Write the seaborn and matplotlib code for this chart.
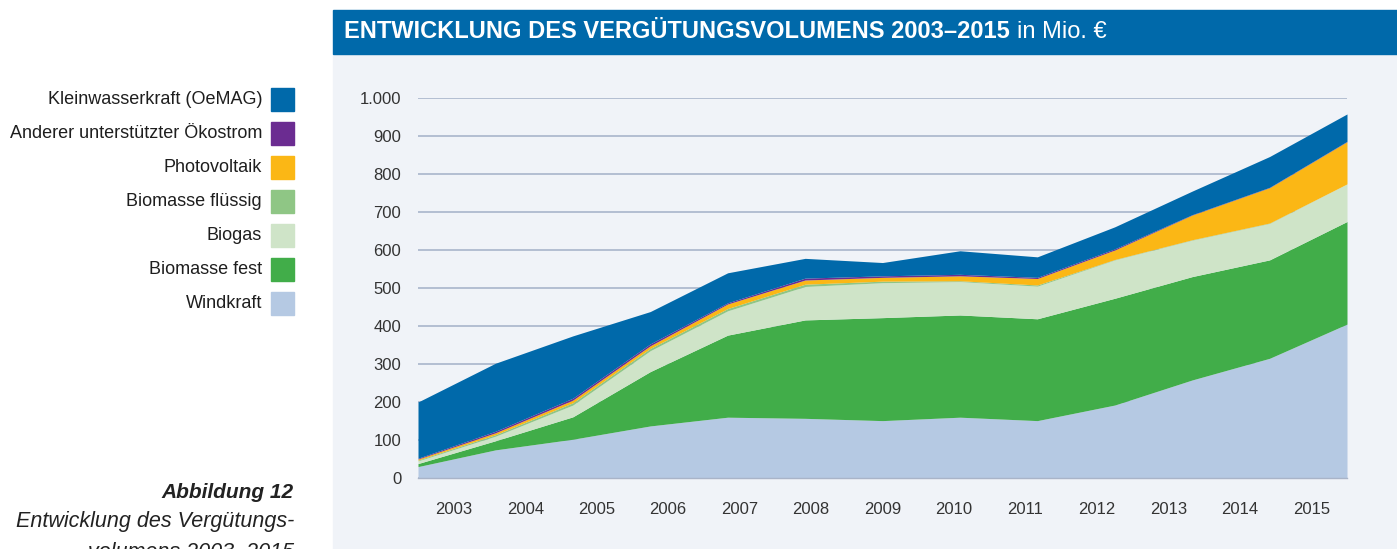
import numpy as np
import pandas as pd
import seaborn as sns
import matplotlib.pyplot as plt
from matplotlib.patches import Rectangle

sns.set_theme(style="white")
plt.rcParams['font.family'] = ['Liberation Sans', 'DejaVu Sans']

# Daten (in Mio. EUR)
jahre = [2003, 2004, 2005, 2006, 2007, 2008, 2009, 2010, 2011, 2012, 2013, 2014, 2015]
windkraft = [30, 74, 102, 137, 160, 157, 151, 160, 151, 192, 258, 315, 405]
biomasse_fest = [8, 24, 59, 143, 216, 259, 271, 269, 268, 281, 272, 259, 270]
biogas = [7, 12, 31, 55, 64, 88, 92, 88, 86, 101, 96, 96, 99]
biomasse_fluessig = [2, 4, 6, 6, 6, 6, 4, 2, 3, 1, 1, 1, 0]
photovoltaik = [3, 5, 7, 7, 12, 11, 10, 13, 17, 25, 65, 93, 111]
anderer = [2, 4, 5, 5, 3, 5, 4, 4, 3, 3, 1, 1, 1]
kleinwasser = [148, 179, 164, 85, 79, 52, 35, 62, 54, 58, 62, 81, 72]

serien = ["Windkraft", "Biomasse fest", "Biogas", "Biomasse flüssig",
          "Photovoltaik", "Anderer unterstützter Ökostrom", "Kleinwasserkraft (OeMAG)"]
farben = ["#B5C9E3", "#41AD49", "#CFE4C8", "#8FC685", "#FBB715", "#6B2C91", "#0069AA"]

df = pd.DataFrame({
    "Windkraft": windkraft,
    "Biomasse fest": biomasse_fest,
    "Biogas": biogas,
    "Biomasse flüssig": biomasse_fluessig,
    "Photovoltaik": photovoltaik,
    "Anderer unterstützter Ökostrom": anderer,
    "Kleinwasserkraft (OeMAG)": kleinwasser,
}, index=jahre)

bg = "#F0F3F8"
W, H = 1397, 549
fig = plt.figure(figsize=(W / 100, H / 100), dpi=100)

# Hintergrund des Diagrammfeldes und Titelbalken
fig.patches.append(Rectangle((333 / W, 0), 1 - 333 / W, 1 - 54 / H,
                             transform=fig.transFigure, color=bg, zorder=-5))
fig.patches.append(Rectangle((333 / W, 1 - 54 / H), 1 - 333 / W, 44 / H,
                             transform=fig.transFigure, color="#0069AA", zorder=-5))
t = fig.text(344 / W, 1 - 32 / H, "ENTWICKLUNG DES VERGÜTUNGSVOLUMENS 2003–2015",
             color="white", fontsize=17, fontweight="bold", va="center", ha="left")
fig.canvas.draw()
bb = t.get_window_extent()
fig.text((bb.x1 + 7) / W, 1 - 32 / H, "in Mio. €", color="white", fontsize=17,
         va="center", ha="left")

ax = fig.add_axes([418 / W, 71 / H, 929 / W, 380 / H])
ax.set_facecolor(bg)

x = np.arange(len(jahre))
ax.stackplot(x, [df[s] for s in serien], colors=farben, linewidth=0, zorder=2)

ax.set_xlim(0, len(jahre) - 1)
ax.set_ylim(0, 1000)
ax.set_yticks(range(0, 1001, 100))
ax.set_yticklabels(["{:,}".format(v).replace(",", ".") for v in range(0, 1001, 100)])
ax.grid(axis="y", color="#B3BED1", linewidth=1.4, zorder=1)
ax.set_axisbelow(True)

n = len(jahre)
scale = (n - 1) / n
ax.set_xticks([k * scale for k in range(n + 1)])
ax.set_xticklabels([])
ax.set_xticks([(k + 0.5) * scale for k in range(n)], minor=True)
ax.set_xticklabels([str(j) for j in jahre], minor=True)
ax.tick_params(axis="x", which="major", length=6, color="#A9B4C8", width=1, direction="out")
ax.tick_params(axis="x", which="minor", length=0, pad=17, labelsize=12, labelcolor="#333333")
ax.tick_params(axis="y", length=0, pad=12, labelsize=12, labelcolor="#333333")

for side in ["top", "right", "left"]:
    ax.spines[side].set_visible(False)
ax.spines["bottom"].set_color("#A9B4C8")
ax.spines["bottom"].set_linewidth(1)

# Legende links
leg_y = [99, 133, 167, 201, 235, 269, 303]
for yy, s, c in zip(leg_y, serien[::-1], farben[::-1]):
    fig.patches.append(Rectangle((271 / W, 1 - (yy + 11.5) / H), 23 / W, 23 / H,
                                 transform=fig.transFigure, color=c))
    fig.text(262 / W, 1 - yy / H, s, ha="right", va="center", fontsize=13,
             fontweight="medium", color="#1E1E1E")

# Bildunterschrift
fig.text(294 / W, 1 - 493 / H, "Abbildung 12", ha="right", va="center",
         fontsize=15, fontstyle="italic", fontweight="bold", color="#222222")
fig.text(294 / W, 1 - 522 / H, "Entwicklung des Vergütungs-", ha="right", va="center",
         fontsize=15.5, fontstyle="italic", color="#222222")
fig.text(294 / W, 1 - 552 / H, "volumens 2003–2015", ha="right", va="center",
         fontsize=15.5, fontstyle="italic", color="#222222")

fig.savefig("out.png", dpi=100)
